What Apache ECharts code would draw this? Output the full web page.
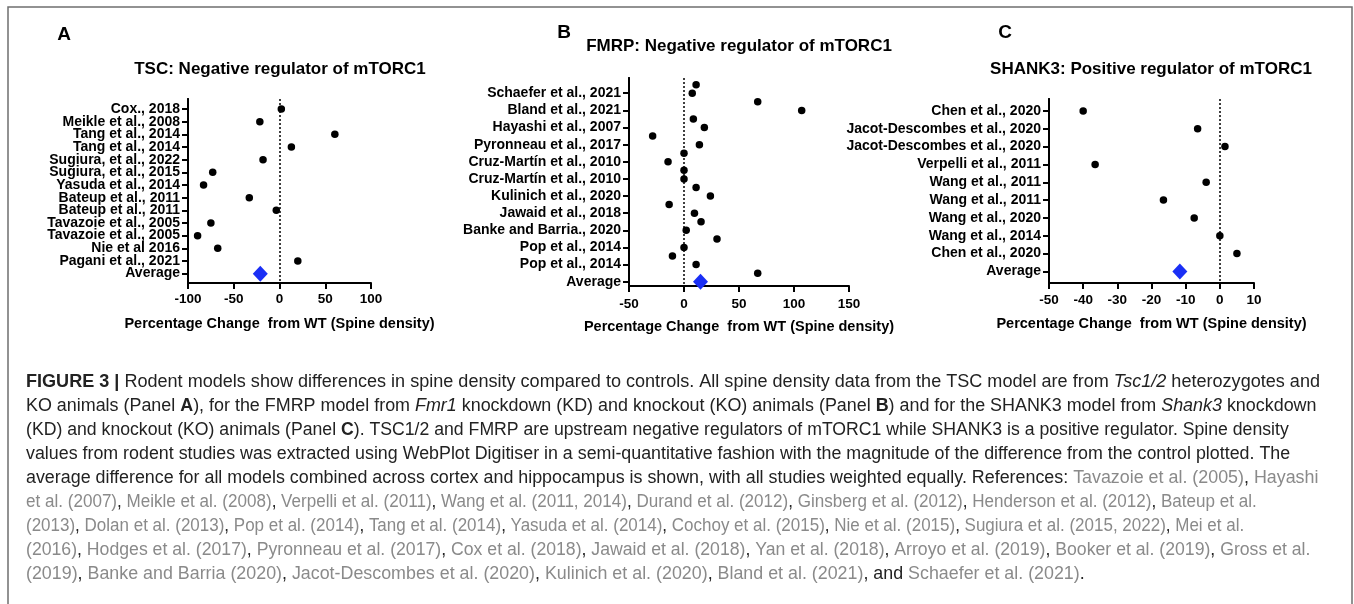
<!DOCTYPE html>
<html>
<head>
<meta charset="utf-8">
<title>Figure 3</title>
<script src="https://cdn.jsdelivr.net/npm/echarts@6/dist/echarts.min.js"></script>
<style>
html, body { margin: 0; padding: 0; background: #fff; }
#main { width: 1354px; height: 604px; }
</style>
</head>
<body>
<div id="main"></div>
<script>
// 数据 A: TSC
var tscStudies = ['Cox., 2018', 'Meikle et al., 2008', 'Tang et al., 2014', 'Tang et al., 2014',
    'Sugiura, et al., 2022', 'Sugiura, et al., 2015', 'Yasuda et al., 2014', 'Bateup et al., 2011',
    'Bateup et al., 2011', 'Tavazoie et al., 2005', 'Tavazoie et al., 2005', 'Nie et al 2016',
    'Pagani et al., 2021', 'Average'];
var tscValues = [2, -21.5, 60.5, 13, -18, -73, -83, -33, -3.5, -75, -89.5, -67.5, 20];
var tscAverage = -21;

// 数据 B: FMRP (points sit on the rows and half way between them)
var fmrpStudies = ['Schaefer et al., 2021', 'Bland et al., 2021', 'Hayashi et al., 2007',
    'Pyronneau et al., 2017', 'Cruz-Martín et al., 2010', 'Cruz-Martín et al., 2010',
    'Kulinich et al., 2020', 'Jawaid et al., 2018', 'Banke and Barria., 2020',
    'Pop et al., 2014', 'Pop et al., 2014', 'Average'];
var fmrpValues = [11, 7.5, 67, 107, 8.5, 18.5, -28.5, 14, 0, -14.5, 0, 0,
    11, 24, -13.5, 9.5, 15.5, 2, 30, 0, -10.5, 11, 67];
var fmrpAverage = 15;

// 数据 C: SHANK3
var shankStudies = ['Chen et al., 2020', 'Jacot-Descombes et al., 2020', 'Jacot-Descombes et al., 2020',
    'Verpelli et al., 2011', 'Wang et al., 2011', 'Wang et al., 2011', 'Wang et al., 2020',
    'Wang et al., 2014', 'Chen et al., 2020', 'Average'];
var shankValues = [-40, -6.5, 1.5, -36.5, -4, -16.5, -7.5, 0, 5];
var shankAverage = -11.7;

// x 轴刻度: min, interval, max
var xTicksA = [-100, 50, 100];
var xTicksB = [-50, 50, 150];
var xTicksC = [-50, 10, 10];

var titles = ['TSC: Negative regulator of mTORC1', 'FMRP: Negative regulator of mTORC1', 'SHANK3: Positive regulator of mTORC1'];
var xName = 'Percentage Change  from WT (Spine density)';

var FONT = "'Liberation Sans', Arial, sans-serif";
var myChart = echarts.init(document.getElementById('main'));

var panels = [
    { labels: tscStudies, values: tscValues, avg: tscAverage, row: function (i) { return i; },
      grid: { left: 188, top: 99, width: 183, height: 184 }, yMin: -0.79, yMax: 13.74, ticks: xTicksA, labelMargin: 9 },
    { labels: fmrpStudies, values: fmrpValues, avg: fmrpAverage, row: function (i) { return (i - 1) / 2; },
      grid: { left: 629, top: 78, width: 220, height: 208 }, yMin: -0.89, yMax: 11.25, ticks: xTicksB, labelMargin: 11 },
    { labels: shankStudies, values: shankValues, avg: shankAverage, row: function (i) { return i; },
      grid: { left: 1049, top: 99, width: 205, height: 184 }, yMin: -0.67, yMax: 9.65, ticks: xTicksC, labelMargin: 10 }
];

var grid = [], xAxis = [], yAxis = [], series = [];
panels.forEach(function (p, k) {
    grid.push(p.grid);
    xAxis.push({
        type: 'value', gridIndex: k,
        min: p.ticks[0], max: p.ticks[2], interval: p.ticks[1],
        name: xName, nameLocation: 'middle', nameGap: 33,
        nameTextStyle: { fontSize: 14.5, fontWeight: 'bold', color: '#000', fontFamily: FONT },
        axisLine: { onZero: false, lineStyle: { color: '#000', width: 2 } },
        axisTick: { show: true, length: 6, lineStyle: { color: '#000', width: 2 } },
        axisLabel: { margin: p.labelMargin, fontSize: 13.5, fontWeight: 'bold', color: '#000', fontFamily: FONT,
            showMinLabel: true, showMaxLabel: true },
        splitLine: { show: false }
    });
    // 行标签分成奇偶两条 y 轴, 避免 ECharts 把首尾附近重叠的标签藏掉
    var yIndex = yAxis.length;
    [0, 1].forEach(function (parity) {
        var rows = [];
        p.labels.forEach(function (d, i) { if (i % 2 === parity) rows.push(i); });
        yAxis.push({
            type: 'value', gridIndex: k, inverse: true,
            position: 'left', offset: 0,
            min: p.yMin, max: p.yMax,
            axisLine: { show: true, onZero: false, lineStyle: { color: '#000', width: 2 } },
            axisTick: { show: true, customValues: rows, length: 6, lineStyle: { color: '#000', width: 2 } },
            axisLabel: {
                customValues: rows, margin: 8, showMinLabel: true, showMaxLabel: true,
                fontSize: 14, fontWeight: 'bold', color: '#000', fontFamily: FONT,
                formatter: function (v) { return p.labels[Math.round(v)]; }
            },
            splitLine: { show: false }
        });
    });
    series.push({
        type: 'scatter', xAxisIndex: k, yAxisIndex: yIndex,
        symbol: 'circle', symbolSize: 7.5,
        itemStyle: { color: '#000', opacity: 1 },
        data: p.values.map(function (v, i) { return [v, p.row(i)]; }),
        markLine: {
            silent: true, symbol: 'none', animation: false,
            label: { show: false },
            lineStyle: { type: [2, 2], color: '#000', width: 1.5 },
            data: [{ xAxis: 0 }]
        },
        z: 3
    });
    series.push({
        type: 'scatter', xAxisIndex: k, yAxisIndex: yIndex,
        symbol: 'diamond', symbolSize: [15, 16],
        itemStyle: { color: '#1a2ff5', opacity: 1 },
        data: [[p.avg, p.labels.length - 1]],
        z: 4
    });
});

function txt(x, y, text, size, align, extra) {
    var style = {
        text: text, fontSize: size, fontFamily: FONT, fontWeight: 'bold', fill: '#000',
        align: align, textAlign: align, verticalAlign: 'middle', textVerticalAlign: 'middle'
    };
    for (var key in extra) style[key] = extra[key];
    return { type: 'text', x: x, y: y, style: style, silent: true };
}

var graphics = [
    { type: 'rect', shape: { x: 8, y: 7, width: 1344, height: 700 },
      style: { fill: 'none', stroke: '#6f6f6f', lineWidth: 1.5 }, silent: true, z: 0 },
    txt(64, 35, 'A', 19, 'center'),
    txt(564, 33, 'B', 19, 'center'),
    txt(1005, 33, 'C', 19, 'center'),
    txt(280, 69.5, titles[0], 17, 'center'),
    txt(739, 46, titles[1], 17, 'center'),
    txt(1151, 69, titles[2], 17, 'center')
];

// 图注
var capRich = {
    b: { fontWeight: 'bold', fontSize: 17.5, fontFamily: FONT, fill: '#222' },
    i: { fontStyle: 'italic', fontSize: 17.5, fontFamily: FONT, fill: '#222' },
    g: { fontSize: 17.5, fontFamily: FONT, fill: '#8a8a8a' }
};
var captionLines = [
    '{b|FIGURE 3 |} Rodent models show differences in spine density compared to controls. All spine density data from the TSC model are from {i|Tsc1/2} heterozygotes and',
    'KO animals (Panel {b|A}), for the FMRP model from {i|Fmr1} knockdown (KD) and knockout (KO) animals (Panel {b|B}) and for the SHANK3 model from {i|Shank3} knockdown',
    '(KD) and knockout (KO) animals (Panel {b|C}). TSC1/2 and FMRP are upstream negative regulators of mTORC1 while SHANK3 is a positive regulator. Spine density',
    'values from rodent studies was extracted using WebPlot Digitiser in a semi-quantitative fashion with the magnitude of the difference from the control plotted. The',
    'average difference for all models combined across cortex and hippocampus is shown, with all studies weighted equally. References: {g|Tavazoie et al. (2005)}, {g|Hayashi}',
    '{g|et al. (2007)}, {g|Meikle et al. (2008)}, {g|Verpelli et al. (2011)}, {g|Wang et al. (2011, 2014)}, {g|Durand et al. (2012)}, {g|Ginsberg et al. (2012)}, {g|Henderson et al. (2012)}, {g|Bateup et al.}',
    '{g|(2013)}, {g|Dolan et al. (2013)}, {g|Pop et al. (2014)}, {g|Tang et al. (2014)}, {g|Yasuda et al. (2014)}, {g|Cochoy et al. (2015)}, {g|Nie et al. (2015)}, {g|Sugiura et al. (2015, 2022)}, {g|Mei et al.}',
    '{g|(2016)}, {g|Hodges et al. (2017)}, {g|Pyronneau et al. (2017)}, {g|Cox et al. (2018)}, {g|Jawaid et al. (2018)}, {g|Yan et al. (2018)}, {g|Arroyo et al. (2019)}, {g|Booker et al. (2019)}, {g|Gross et al.}',
    '{g|(2019)}, {g|Banke and Barria (2020)}, {g|Jacot-Descombes et al. (2020)}, {g|Kulinich et al. (2020)}, {g|Bland et al. (2021)}, and {g|Schaefer et al. (2021)}.'
];
// horizontal squeeze per line so the line ends land where the printed ones do
var lineStretch = [1.032, 1.023, 1.009, 1.019, 1.021, 0.975, 0.971, 1.009, 1.02];
captionLines.forEach(function (line, i) {
    var el = txt(26, 381.7 + i * 24.1, line, 17.5, 'left', { fontWeight: 'normal', fill: '#222', rich: capRich });
    el.scaleX = lineStretch[i];
    graphics.push(el);
});

var option = {
    backgroundColor: '#fff',
    animation: false,
    grid: grid,
    xAxis: xAxis,
    yAxis: yAxis,
    series: series,
    graphic: graphics
};
myChart.setOption(option);

window.addEventListener('resize', function () {
    myChart.resize();
});
</script>
</body>
</html>
